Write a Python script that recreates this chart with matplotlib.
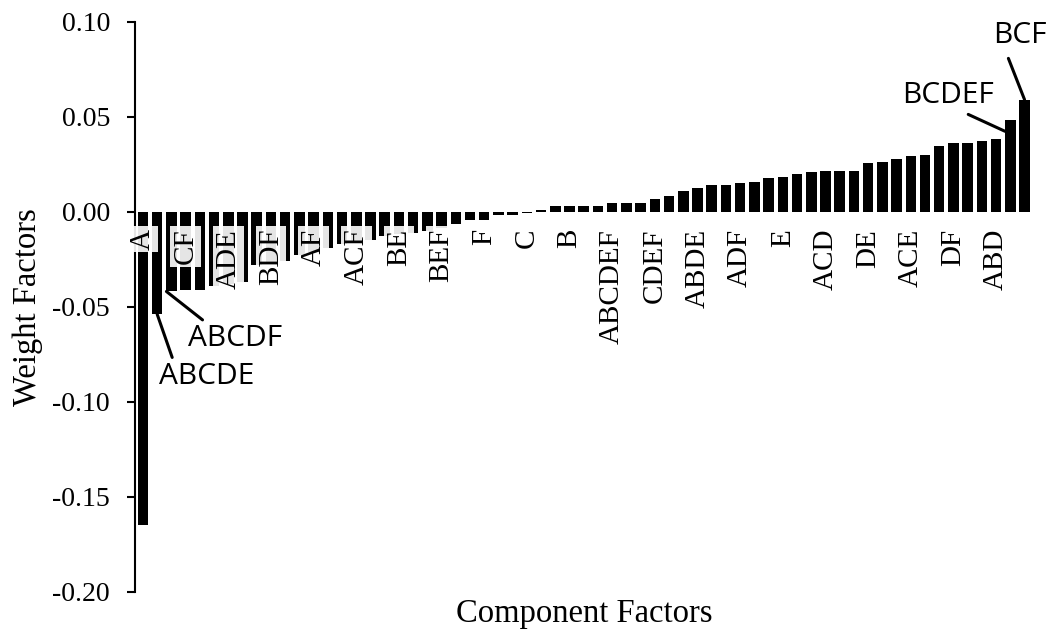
import numpy as np
import matplotlib
matplotlib.use("Agg")
import matplotlib.pyplot as plt

plt.rcParams['font.family'] = ['Liberation Serif', 'DejaVu Serif']
plt.rcParams['axes.unicode_minus'] = False

# weight factor of every component, sorted ascending (63 bars)
weights = [
    -0.165, -0.054, -0.042, -0.041, -0.041, -0.039, -0.038, -0.037, -0.028, -0.027,
    -0.026, -0.023, -0.021, -0.019, -0.017, -0.016, -0.015, -0.013, -0.012, -0.011,
    -0.010, -0.0087, -0.0067, -0.0046, -0.0043, -0.0016, -0.0015, -0.0008, 0.0011, 0.0028,
    0.0028, 0.0028, 0.0030, 0.0044, 0.0047, 0.0047, 0.0069, 0.0084, 0.0109, 0.0125,
    0.0142, 0.0142, 0.0152, 0.0158, 0.0177, 0.0183, 0.0198, 0.0209, 0.0214, 0.0214,
    0.0214, 0.0256, 0.0262, 0.0278, 0.0293, 0.0299, 0.0346, 0.0362, 0.0362, 0.0372,
    0.0383, 0.0483, 0.0590,
]

# names written under every third bar
tick_names = ['A', 'CF', 'ADE', 'BDF', 'AF', 'ACF', 'BE', 'BEF', 'F', 'C', 'B',
              'ABCDEF', 'CDEF', 'ABDE', 'ADF', 'E', 'ACD', 'DE', 'ACE', 'DF', 'ABD']
tick_step = 3

# called-out components: bar index -> name
callout_idx = [1, 2, 61, 62]
callout_names = ['ABCDE', 'ABCDF', 'BCDEF', 'BCF']

x = np.arange(len(weights))

fig = plt.figure(figsize=(10.49, 6.32), dpi=100)
ax = fig.add_axes([0.1287, 0.0638, 0.8561, 0.9019])

ax.bar(x, weights, width=0.74, color='black', zorder=2)

ax.set_xlim(-0.56, len(weights) - 0.4)
ax.set_ylim(-0.20, 0.10)
ax.set_yticks(np.arange(-0.20, 0.101, 0.05))
ax.yaxis.set_major_formatter(matplotlib.ticker.FuncFormatter(
    lambda v, pos: '%.2f' % (round(v, 2) + 0.0)))
ax.tick_params(axis='y', direction='out', length=6, width=1.5, pad=12, labelsize=20)
ax.tick_params(axis='x', bottom=False, labelbottom=False)
for side in ['top', 'right', 'bottom']:
    ax.spines[side].set_visible(False)
ax.spines['left'].set_linewidth(1.5)

ax.set_ylabel('Weight Factors', fontsize=23.5, labelpad=7)
ax.set_xlabel('Component Factors', fontsize=23.5, labelpad=5)

# category names sit just under the zero line, on a pale box over the bars
for k, name in enumerate(tick_names):
    ax.text(k * tick_step, -0.009, name, rotation=90, ha='center', va='top',
            fontsize=21, zorder=3,
            bbox=dict(boxstyle='square,pad=0.08', facecolor='white', alpha=0.9, edgecolor='none'))

# leader-line labels
line_kw = dict(arrowstyle='-', color='black', lw=2.2, shrinkB=0)
label_kw = dict(fontsize=21.5, family='Open Sans', ha='center', va='center', zorder=4)

ax.annotate(callout_names[0], xy=(callout_idx[0], weights[callout_idx[0]]),
            xytext=(4.5, -0.0865),
            arrowprops=dict(relpos=(0.15, 1.0), shrinkA=1, **line_kw), **label_kw)
ax.annotate(callout_names[1], xy=(callout_idx[1] - 0.35, weights[callout_idx[1]]),
            xytext=(6.5, -0.0665),
            arrowprops=dict(relpos=(0.2, 1.0), shrinkA=1, **line_kw), **label_kw)
ax.annotate(callout_names[2], xy=(callout_idx[2] - 0.37, weights[callout_idx[2]] - 0.006),
            xytext=(56.6, 0.0609),
            arrowprops=dict(relpos=(0.63, 0.0), shrinkA=2, **line_kw), **label_kw)
ax.annotate(callout_names[3], xy=(callout_idx[3], weights[callout_idx[3]]),
            xytext=(61.7, 0.0925),
            arrowprops=dict(relpos=(0.22, 0.0), shrinkA=4, **line_kw), **label_kw)

fig.savefig('out.png', dpi=100)
